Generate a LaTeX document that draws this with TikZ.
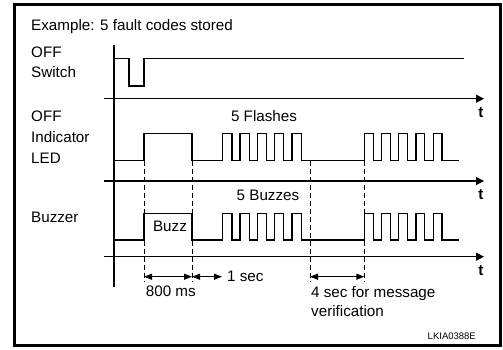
\documentclass[tikz,border=0pt]{standalone}
\usepackage{fontspec}
\setmainfont{Liberation Sans}
\usetikzlibrary{arrows.meta}

\begin{document}
\begin{tikzpicture}[x=1pt,y=-1pt,
    wave/.style={line width=1.2pt},
    taxis/.style={line width=1.1pt,-{Triangle[length=8pt,width=8pt]}},
    guide/.style={line width=1pt,dash pattern=on 5pt off 3pt},
    dim/.style={line width=1pt,{Triangle[length=8pt,width=6pt]}-{Triangle[length=8pt,width=6pt]}},
    lbl/.style={anchor=base west,inner sep=0pt,font=\fontsize{15.2}{18}\selectfont}]
  \useasboundingbox (0,0) rectangle (503,349);
  \draw[line width=3pt] (14.5,4.5) rectangle (500,345.5);

  % row labels
  \node[lbl] (title) at (31,30.7) {Example: 5 fault codes stored};
  \node[lbl] (sw1) at (31,57.7) {OFF};
  \node[lbl] (sw2) at (31,77.3) {Switch};
  \node[lbl] (led1) at (31,121) {OFF};
  \node[lbl] (led2) at (31,142.7) {Indicator};
  \node[lbl] (led3) at (31,163.3) {LED};
  \node[lbl] (bz) at (31,222.3) {Buzzer};

  % time axes
  \draw[line width=1.1pt] (114,45) -- (114,287);
  \foreach \y [count=\i] in {98.7,181,256.7} {
    \coordinate (a\i) at (104,\y);
    \coordinate (b\i) at (484,\y);
    \draw[taxis] (a\i) -- (b\i);
    \node[font=\bfseries\fontsize{15.2}{18}\selectfont,anchor=base,inner sep=0pt] (t\i) at (481,\y+18.5) {t};
  }

  % switch
  \draw[wave] (114,58.7) -- (129,58.7) -- (129,86) -- (144,86) -- (144,58.7) -- (464,58.7);

  % LED and buzzer
  \foreach \lo/\hi in {160.7/133.3, 240/213.3} {
    \draw[wave] (114,\lo) -- (144,\lo) -- (144,\hi) -- (192,\hi) -- (192,\lo)
      \foreach \k in {0,...,4} {
        -- (222.7+17.3*\k,\lo) -- (222.7+17.3*\k,\hi) -- (231.9+17.3*\k,\hi) -- (231.9+17.3*\k,\lo)}
      \foreach \k in {0,...,4} {
        -- (364.3+17.2*\k,\lo) -- (364.3+17.2*\k,\hi) -- (373.1+17.2*\k,\hi) -- (373.1+17.2*\k,\lo)}
      -- (459,\lo);
  }

  % guides and spans
  \foreach \x [count=\i] in {144,192,310,364.3} {
    \coordinate (g\i) at (\x,276.7);
    \draw[guide] (\x,160.7) -- (\x,282);
  }
  \coordinate (p1) at (222,276.7);
  \draw[dim] (g1) -- (g2);
  \draw[dim] (g2) -- (p1);
  \draw[dim] (g3) -- (g4);

  \node[lbl,anchor=base] (buzz) at (170,231.7) {Buzz};
  \node[lbl,anchor=base] (flash) at (264,121) {5 Flashes};
  \node[lbl,anchor=base] (buzzes) at (268,200.7) {5 Buzzes};
  \node[lbl] (ms) at (145.7,296.7) {800 ms};
  \node[lbl] (sec) at (227,281.7) {1 sec};
  \node[lbl] (msg1) at (311,297.7) {4 sec for message};
  \node[lbl] (msg2) at (311,316.7) {verification};
  \node[anchor=base east,inner sep=0pt,font=\fontsize{9.5}{11}\selectfont] (code) at (476,339) {LKIA0388E};
\end{tikzpicture}
\end{document}
